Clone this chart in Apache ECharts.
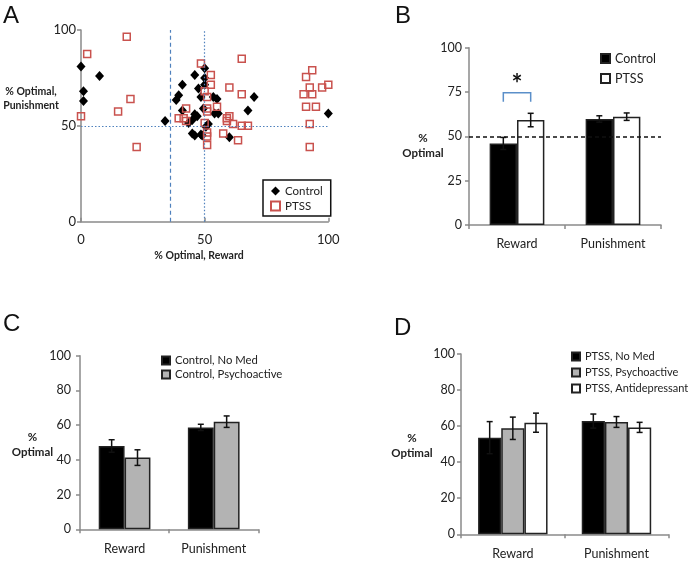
<!DOCTYPE html>
<html><head><meta charset="utf-8">
<script src="https://cdn.jsdelivr.net/npm/echarts@6/dist/echarts.min.js"></script>
<style>
html,body{margin:0;padding:0;background:#fff;width:689px;height:561px;overflow:hidden}
.p{position:absolute;left:0;top:0;width:689px;height:561px}
</style></head>
<body>
<div id="a" class="p"></div><div id="b" class="p"></div><div id="c" class="p"></div><div id="d" class="p"></div>
<script>
// ---------- DATA ----------
// Panel A: [% optimal reward, % optimal punishment]
const scatterControl = [
  [0,81],[1,68],[1,63],[7.5,76],[34,52.5],[38.5,63.5],[39.5,66],[41,71.5],[41,58],[43.5,51.5],
  [45,46],[46,45],[46,76.5],[46,56],[47,55],[47.5,69.5],[48.5,65],[48.5,45.5],[50,80],[50,75],
  [50,71.5],[49.5,59],[50.5,49.5],[51.5,51],[53.5,65],[55,64],[54,56.5],[55.5,56.5],[60,44],
  [67.5,58],[70,65],[100,56.5],[45,53],[49,45]
];
const scatterPTSS = [
  [0,55],[2.5,87.5],[18.5,96.5],[15,57.5],[20,64],[22.5,39],[39.5,54],[41.5,54],[42.5,52.5],[42.5,59],
  [48.5,82.5],[50,68],[50,51.5],[51,65],[51,59],[51,57.5],[51,46.5],[51,44.5],[51,40],[52.5,76.5],
  [52.5,71.5],[55,60],[57.5,46],[59,54],[59,52.5],[60,70],[60,55],[61.5,51],[63.5,42.5],[65,85],
  [65,66.5],[65,50],[67.5,50],[90,66.5],[91,75.5],[93.5,79],[92.5,70],[93.5,66.5],[97.5,70],[100,71.5],
  [91,60],[95,60],[92.5,51],[92.5,39]
];
const refDashedX = 36;   // dashed vertical reference
const refDottedX = 50;   // dotted vertical reference
const refDottedY = 50;   // dotted horizontal reference

const categories = ['Reward', 'Punishment'];

// Panel B
const bNames = ['Control', 'PTSS'];
const bControl = [46, 59.8];
const bControlErr = [3.4, 1.8];
const bPTSS = [59.2, 61.1];
const bPTSSErr = [3.8, 2.1];
const bChance = 50;
const bSig = [[0, 69.5, 74.6, '*']]; // [category, leg bottom, bracket top, label]

// Panel C
const cNames = ['Control, No Med', 'Control, Psychoactive'];
const cNoMed = [48, 58.7];
const cNoMedErr = [3.6, 1.8];
const cPsych = [41.3, 62];
const cPsychErr = [4.5, 3.3];

// Panel D
const dNames = ['PTSS, No Med', 'PTSS, Psychoactive', 'PTSS, Antidepressant'];
const dNoMed = [53.6, 62.8];
const dNoMedErr = [8.9, 3.9];
const dPsych = [58.8, 62.3];
const dPsychErr = [6.2, 3.0];
const dAnti = [61.9, 59.3];
const dAntiErr = [5.3, 2.8];

// ---------- STYLE ----------
const FONT = 'Lato, "Open Sans", sans-serif';
const AXC = '#8a8a8a';
const TXT = '#222';

function errData(vals, errs) {
  return vals.map((v, i) => [i, v - errs[i], v + errs[i]]);
}
function errRender(n, k, gap) {
  return function (params, api) {
    const cat = api.value(0), lo = api.value(1), hi = api.value(2);
    const catW = api.size([1, 0])[0];
    const groupW = catW * (1 - gap);
    const bw = groupW / n;
    const cx = api.coord([cat, 0])[0] - groupW / 2 + bw * (k + 0.5);
    const y1 = api.coord([cat, lo])[1], y2 = api.coord([cat, hi])[1];
    const cap = 3;
    const st = { stroke: '#111', lineWidth: 1.5 };
    return { type: 'group', children: [
      { type: 'line', shape: { x1: cx, y1: y1, x2: cx, y2: y2 }, style: st },
      { type: 'line', shape: { x1: cx - cap, y1: y1, x2: cx + cap, y2: y1 }, style: st },
      { type: 'line', shape: { x1: cx - cap, y1: y2, x2: cx + cap, y2: y2 }, style: st }
    ]};
  };
}
function barSeries(name, vals, fill, gap) {
  return { name: name, type: 'bar', data: vals, barGap: '0%', barCategoryGap: (gap * 100) + '%',
    itemStyle: { color: fill, borderColor: '#222', borderWidth: 1.5 }, z: 2, animation: false };
}
function errSeries(vals, errs, n, k, gap) {
  return { type: 'custom', data: errData(vals, errs), renderItem: errRender(n, k, gap),
    encode: { x: 0, y: [1, 2] }, z: 5, silent: true, animation: false };
}
function catAxis(margin, fs) {
  return { type: 'category', data: categories,
    axisLine: { lineStyle: { color: AXC, width: 1.5 } },
    axisTick: { show: true, length: 4, interval: 0, lineStyle: { color: AXC, width: 1.5 } },
    axisLabel: { color: TXT, fontFamily: FONT, fontSize: fs, margin: margin, interval: 0 } };
}
function valAxis(interval, margin, fs) {
  return { type: 'value', min: 0, max: 100, interval: interval,
    axisLine: { show: true, lineStyle: { color: AXC, width: 1.5 } },
    axisTick: { show: true, length: 4, lineStyle: { color: AXC, width: 1.5 } },
    splitLine: { show: false },
    axisLabel: { color: TXT, fontFamily: FONT, fontSize: fs, margin: margin } };
}
function letter(t, x, y) {
  return { type: 'text', left: x, top: y, style: { text: t, font: '24px "Liberation Sans", Arial, sans-serif', fill: '#111' } };
}
function ylab(x, y1, y2, fs) {
  return [
    { type: 'text', x: x, y: y1, style: { text: '%', font: 'bold ' + fs + 'px ' + FONT, fill: TXT, align: 'center', verticalAlign: 'middle' } },
    { type: 'text', x: x, y: y2, style: { text: 'Optimal', font: 'bold ' + fs + 'px ' + FONT, fill: TXT, align: 'center', verticalAlign: 'middle' } }
  ];
}

// ---------- PANEL A ----------
const chA = echarts.init(document.getElementById('a'), null, { renderer: 'canvas' });
const blue = '#4f81bd';
chA.setOption({
  animation: false,
  grid: { left: 81, top: 30, width: 247.3, height: 191.7 },
  xAxis: { type: 'value', min: 0, max: 100, interval: 50,
    axisLine: { show: true, lineStyle: { color: AXC, width: 1.5 } },
    axisTick: { show: true, inside: true, length: 4, lineStyle: { color: AXC, width: 1.5 } },
    splitLine: { show: false },
    axisLabel: { color: TXT, fontFamily: FONT, fontSize: 13, margin: 12 } },
  yAxis: { type: 'value', min: 0, max: 100, interval: 50,
    axisLine: { show: true, lineStyle: { color: AXC, width: 1.5 } },
    axisTick: { show: true, length: 4, lineStyle: { color: AXC, width: 1.5 } },
    splitLine: { show: false },
    axisLabel: { color: TXT, fontFamily: FONT, fontSize: 13, margin: 5 } },
  legend: { orient: 'vertical', left: 263, top: 180, data: ['Control', 'PTSS'],
    borderColor: '#111', borderWidth: 1.5, padding: [5, 8, 4, 7], itemGap: 3,
    itemWidth: 9, itemHeight: 9,
    textStyle: { fontFamily: FONT, fontSize: 11.5, color: TXT } },
  graphic: [
    letter('A', 3, 4),
    { type: 'text', x: 31, y: 92, style: { text: '% Optimal,', font: 'bold 10.5px ' + FONT, fill: TXT, align: 'center', verticalAlign: 'middle' } },
    { type: 'text', x: 31, y: 106, style: { text: 'Punishment', font: 'bold 10.5px ' + FONT, fill: TXT, align: 'center', verticalAlign: 'middle' } },
    { type: 'text', x: 199, y: 256, style: { text: '% Optimal, Reward', font: 'bold 10.5px ' + FONT, fill: TXT, align: 'center', verticalAlign: 'middle' } }
  ],
  series: [
    { name: 'Control', type: 'scatter', data: scatterControl, symbol: 'diamond', symbolSize: [9, 10],
      itemStyle: { color: '#000', opacity: 1 }, z: 3,
      markLine: { silent: true, symbol: 'none', label: { show: false },
        data: [
          { xAxis: refDashedX, lineStyle: { type: [4, 3], color: blue, width: 1.2 } },
          { xAxis: refDottedX, lineStyle: { type: [1.5, 2], color: blue, width: 1.2 } },
          { yAxis: refDottedY, lineStyle: { type: [1.5, 2], color: blue, width: 1.2 } }
        ] } },
    { name: 'PTSS', type: 'scatter', data: scatterPTSS, symbol: 'rect', symbolSize: 7,
      itemStyle: { color: 'rgba(255,255,255,0)', borderColor: '#c9524e', borderWidth: 1.5, opacity: 1 }, z: 4 }
  ]
});

// ---------- PANEL B ----------
const gB = 0.43;
const chB = echarts.init(document.getElementById('b'));
chB.setOption({
  animation: false,
  grid: { left: 469, top: 47.7, width: 192, height: 177.3 },
  xAxis: catAxis(12, 12.5),
  yAxis: valAxis(25, 7, 12.5),
  legend: { orient: 'vertical', left: 600, top: 52, data: bNames, icon: 'rect',
    itemWidth: 9, itemHeight: 9, itemGap: 7, padding: 0,
    textStyle: { fontFamily: FONT, fontSize: 12.5, color: TXT } },
  graphic: [letter('B', 395, 4)].concat(ylab(423, 138, 153.5, 11.5)),
  series: [
    Object.assign(barSeries('Control', bControl, '#000', gB), {
      markLine: { silent: true, symbol: 'none', label: { show: false },
        lineStyle: { type: [4, 3], color: '#111', width: 1.5 }, data: [{ yAxis: bChance }] } }),
    barSeries('PTSS', bPTSS, '#fff', gB),
    errSeries(bControl, bControlErr, 2, 0, gB),
    errSeries(bPTSS, bPTSSErr, 2, 1, gB),
    { type: 'custom', data: bSig, encode: { x: 0, y: [1, 2] }, z: 6, silent: true, animation: false,
      renderItem: function (params, api) {
        const cat = api.value(0), lo = api.value(1), hi = api.value(2);
        const catW = api.size([1, 0])[0];
        const groupW = catW * (1 - gB), bw = groupW / 2;
        const c0 = api.coord([cat, 0])[0];
        const xa = c0 - groupW / 2 + bw * 0.5, xb = c0 - groupW / 2 + bw * 1.5;
        const yl = api.coord([cat, lo])[1], yh = api.coord([cat, hi])[1];
        return { type: 'group', children: [
          { type: 'polyline', shape: { points: [[xa, yl], [xa, yh], [xb, yh], [xb, yl]] },
            style: { stroke: '#5b8fc9', lineWidth: 1.5, fill: null } },
          { type: 'text', x: (xa + xb) / 2, y: yh + 5,
            style: { text: bSig[params.dataIndex][3], font: 'bold 26px ' + FONT, fill: '#111', align: 'center', verticalAlign: 'bottom' } }
        ]};
      } }
  ]
});

// ---------- PANEL C ----------
const gC = 0.42;
const chC = echarts.init(document.getElementById('c'));
chC.setOption({
  animation: false,
  grid: { left: 80, top: 355.7, width: 178.3, height: 173.6 },
  xAxis: catAxis(13, 12.5),
  yAxis: valAxis(20, 9, 12.5),
  legend: { orient: 'vertical', left: 161, top: 355, data: cNames, icon: 'rect',
    itemWidth: 8, itemHeight: 8, itemGap: 3, padding: 0,
    textStyle: { fontFamily: FONT, fontSize: 11.3, color: TXT } },
  graphic: [letter('C', 3, 312)].concat(ylab(32.5, 437, 452, 11.5)),
  series: [
    barSeries(cNames[0], cNoMed, '#000', gC),
    barSeries(cNames[1], cPsych, '#b3b3b3', gC),
    errSeries(cNoMed, cNoMedErr, 2, 0, gC),
    errSeries(cPsych, cPsychErr, 2, 1, gC)
  ]
});

// ---------- PANEL D ----------
const gD = 0.33;
const chD = echarts.init(document.getElementById('d'));
chD.setOption({
  animation: false,
  grid: { left: 461, top: 354, width: 207.3, height: 180.3 },
  xAxis: catAxis(13, 12.5),
  yAxis: valAxis(20, 6, 12.5),
  legend: { orient: 'vertical', left: 571, top: 351, data: dNames, icon: 'rect',
    itemWidth: 8, itemHeight: 8, itemGap: 5, padding: 0,
    textStyle: { fontFamily: FONT, fontSize: 11, color: TXT } },
  graphic: [letter('D', 394, 316)].concat(ylab(412, 438.5, 453.5, 11.5)),
  series: [
    barSeries(dNames[0], dNoMed, '#000', gD),
    barSeries(dNames[1], dPsych, '#b3b3b3', gD),
    barSeries(dNames[2], dAnti, '#fff', gD),
    errSeries(dNoMed, dNoMedErr, 3, 0, gD),
    errSeries(dPsych, dPsychErr, 3, 1, gD),
    errSeries(dAnti, dAntiErr, 3, 2, gD)
  ]
});
</script>
</body></html>
